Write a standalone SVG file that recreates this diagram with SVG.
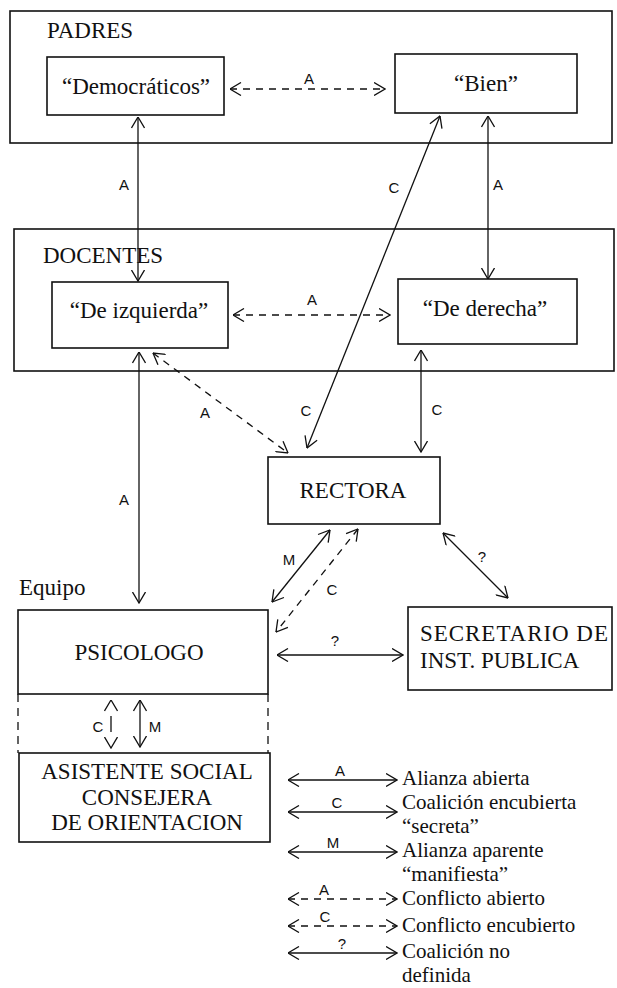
<svg xmlns="http://www.w3.org/2000/svg" width="617" height="988" viewBox="0 0 617 988">
<style>
.frame{fill:none;stroke:#111;stroke-width:1.6}
.box{fill:#fff;stroke:#111;stroke-width:1.6}
.t{font-family:"Liberation Serif","Times New Roman",serif;font-size:23px;fill:#111}
.lg{font-family:"Liberation Serif","Times New Roman",serif;font-size:21px;fill:#111}
.m{text-anchor:middle}
.l{font-family:"Liberation Sans",Arial,sans-serif;font-size:15px;fill:#111;text-anchor:middle}
.c{stroke:#111;stroke-width:1.3;fill:none;marker-start:url(#ah);marker-end:url(#ah)}
.d{stroke-dasharray:7 6}
.g{stroke:#111;stroke-width:1.3;fill:none;stroke-dasharray:8 6}
</style>
<defs>
<marker id="ah" viewBox="0 0 12 14" refX="11.5" refY="7" markerWidth="12" markerHeight="14" markerUnits="userSpaceOnUse" orient="auto-start-reverse">
<path d="M0.5,0.5 L11.5,7 L0.5,13.5" fill="none" stroke="#111" stroke-width="1.3"/>
</marker>
</defs>
<rect width="617" height="988" fill="#fff"/>

<g id="padres">
<rect class="frame" x="10" y="11" width="602" height="132"/>
<text class="t" x="47" y="38">PADRES</text>
</g>
<g id="docentes">
<rect class="frame" x="14" y="229" width="600" height="142"/>
<text class="t" x="43" y="263">DOCENTES</text>
</g>
<g id="equipo">
<text class="t" x="19" y="595">Equipo</text>
<line class="g" x1="18" y1="694" x2="18" y2="753"/>
<line class="g" x1="268" y1="694" x2="268" y2="753"/>
</g>

<g id="connectors">
<line class="c d" x1="230" y1="89" x2="385" y2="89"/>
<text class="l" x="309" y="84">A</text>
<line class="c" x1="138" y1="117" x2="138" y2="281"/>
<text class="l" x="124" y="190">A</text>
<line class="c" x1="488" y1="116" x2="488" y2="279"/>
<text class="l" x="498" y="190">A</text>
<line class="c" x1="440" y1="116" x2="307" y2="448"/>
<text class="l" x="394" y="193">C</text>
<text class="l" x="306" y="416">C</text>
<line class="c d" x1="233" y1="315" x2="390" y2="315"/>
<text class="l" x="312" y="305">A</text>
<line class="c d" x1="153" y1="353" x2="288" y2="453"/>
<text class="l" x="205" y="418">A</text>
<line class="c" x1="421" y1="350" x2="421" y2="452"/>
<text class="l" x="437" y="415">C</text>
<line class="c" x1="139" y1="352" x2="139" y2="603"/>
<text class="l" x="124" y="505">A</text>
<line class="c" x1="330" y1="530" x2="272" y2="602"/>
<text class="l" x="289" y="565">M</text>
<line class="c d" x1="358" y1="529" x2="276" y2="632"/>
<text class="l" x="332" y="595">C</text>
<line class="c" x1="443" y1="533" x2="508" y2="598"/>
<text class="l" x="482" y="562">?</text>
<line class="c" x1="277" y1="655" x2="403" y2="655"/>
<text class="l" x="335" y="646">?</text>
<line class="c" x1="111" y1="700" x2="111" y2="748" style="stroke-dasharray:0 16 16 16"/>
<text class="l" x="98" y="732">C</text>
<line class="c" x1="140" y1="700" x2="140" y2="747"/>
<text class="l" x="155" y="732">M</text>
</g>

<g id="democraticos">
<rect class="box" x="47" y="57" width="177" height="58"/>
<text class="t m" x="136" y="94">“Democráticos”</text>
</g>
<g id="bien">
<rect class="box" x="395" y="54" width="182" height="59"/>
<text class="t m" x="486" y="91">“Bien”</text>
</g>
<g id="izquierda">
<rect class="box" x="52" y="282" width="176" height="66"/>
<text class="t m" x="139" y="318">“De izquierda”</text>
</g>
<g id="derecha">
<rect class="box" x="398" y="279" width="179" height="65"/>
<text class="t m" x="485" y="316">“De derecha”</text>
</g>
<g id="rectora">
<rect class="box" x="268" y="457" width="172" height="67"/>
<text class="t m" x="353" y="498">RECTORA</text>
</g>
<g id="psicologo">
<rect class="box" x="18" y="610" width="250" height="84"/>
<text class="t m" x="139" y="660">PSICOLOGO</text>
</g>
<g id="secretario">
<rect class="box" x="408" y="607" width="204" height="83"/>
<text class="t" x="420" y="641" textLength="188" lengthAdjust="spacing">SECRETARIO DE</text>
<text class="t" x="420" y="668">INST. PUBLICA</text>
</g>
<g id="asistente">
<rect class="box" x="19" y="753" width="251" height="89"/>
<text class="t m" x="147" y="779">ASISTENTE SOCIAL</text>
<text class="t m" x="147" y="805">CONSEJERA</text>
<text class="t m" x="147" y="830">DE ORIENTACION</text>
</g>

<g id="legend">
<line class="c" x1="288" y1="780" x2="397" y2="780"/>
<text class="l" x="340" y="776">A</text>
<text class="lg" x="402" y="785">Alianza abierta</text>
<line class="c" x1="288" y1="812" x2="397" y2="812"/>
<text class="l" x="337" y="808">C</text>
<text class="lg" x="402" y="809">Coalición encubierta</text>
<text class="lg" x="402" y="833">“secreta”</text>
<line class="c" x1="288" y1="852" x2="397" y2="852"/>
<text class="l" x="333" y="848">M</text>
<text class="lg" x="402" y="857">Alianza aparente</text>
<text class="lg" x="402" y="881">“manifiesta”</text>
<line class="c d" x1="288" y1="899" x2="397" y2="899"/>
<text class="l" x="324" y="895">A</text>
<text class="lg" x="402" y="905">Conflicto abierto</text>
<line class="c d" x1="288" y1="926" x2="397" y2="926"/>
<text class="l" x="325" y="922">C</text>
<text class="lg" x="402" y="932">Conflicto encubierto</text>
<line class="c" x1="288" y1="953" x2="397" y2="953"/>
<text class="l" x="342" y="949">?</text>
<text class="lg" x="402" y="958">Coalición no</text>
<text class="lg" x="402" y="982">definida</text>
</g>
</svg>
